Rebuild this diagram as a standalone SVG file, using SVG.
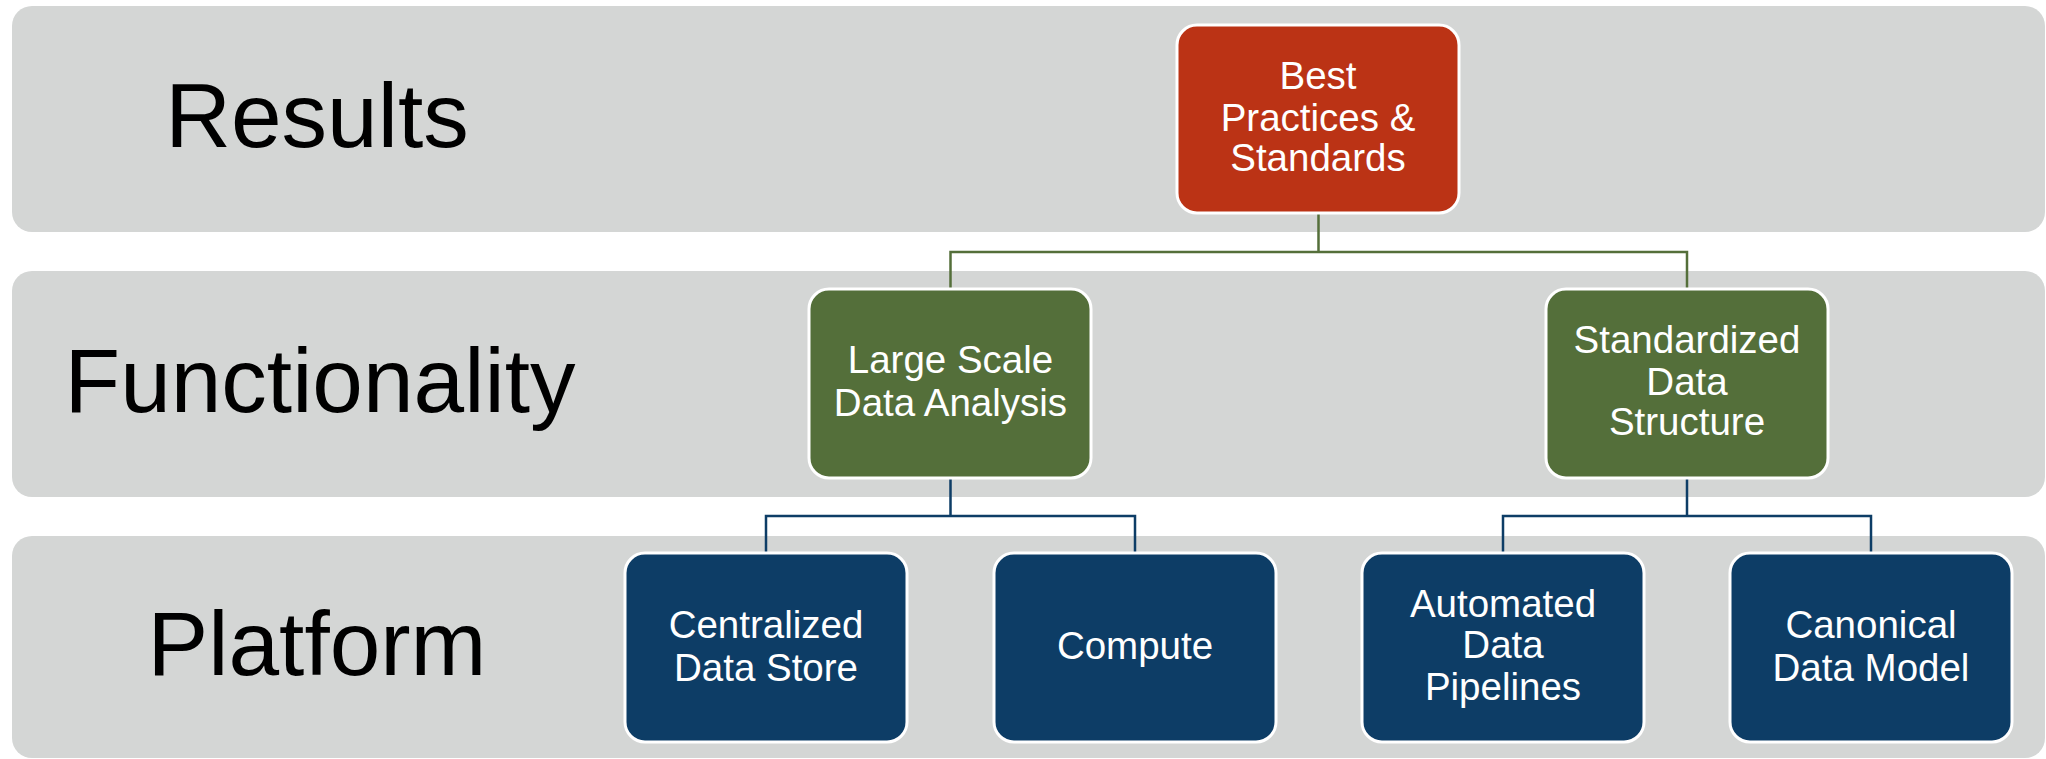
<svg xmlns="http://www.w3.org/2000/svg" width="2046" height="759" viewBox="0 0 2046 759">
  <style>
    .band { fill: #D4D6D5; }
    .tier { font-family: "Liberation Sans", Arial, sans-serif; font-size: 91px; fill: #000000; text-anchor: middle; }
    .box { stroke: #FFFFFF; stroke-width: 3; }
    .red { fill: #BB3315; }
    .green { fill: #546F3A; }
    .blue { fill: #0D3D66; }
    .lbl { font-family: "Liberation Sans", Arial, sans-serif; font-size: 38.5px; fill: #FFFFFF; text-anchor: middle; }
    .wire { fill: none; stroke-width: 2.5; }
    .wire-g { stroke: #546F3A; }
    .wire-b { stroke: #0D3D66; }
  </style>

  <!-- tier bands -->
  <g id="bands">
    <rect class="band" x="12" y="6" width="2033" height="226" rx="20"/>
    <rect class="band" x="12" y="271" width="2033" height="226" rx="20"/>
    <rect class="band" x="12" y="536" width="2033" height="222" rx="20"/>
    <text class="tier" x="317" y="147">Results</text>
    <text class="tier" x="320" y="412">Functionality</text>
    <text class="tier" x="317" y="675">Platform</text>
  </g>

  <!-- connectors -->
  <g id="connectors">
    <path class="wire wire-g" d="M1318.5 213 V252 M950.5 289 V252 H1687 V289"/>
    <path class="wire wire-b" d="M950.5 478 V516 M766 553 V516 H1135 V553"/>
    <path class="wire wire-b" d="M1687 478 V516 M1503 553 V516 H1871 V553"/>
  </g>

  <g id="best-practices">
    <rect class="box red" x="1177" y="25" width="282" height="188" rx="20"/>
    <text class="lbl" x="1318" y="89">Best</text>
    <text class="lbl" x="1318" y="131">Practices &amp;</text>
    <text class="lbl" x="1318" y="171">Standards</text>
  </g>

  <g id="large-scale-analysis">
    <rect class="box green" x="809" y="289" width="282" height="189" rx="20"/>
    <text class="lbl" x="950.5" y="373">Large Scale</text>
    <text class="lbl" x="950.5" y="416">Data Analysis</text>
  </g>

  <g id="standardized-structure">
    <rect class="box green" x="1546" y="289" width="282" height="189" rx="20"/>
    <text class="lbl" x="1687" y="353">Standardized</text>
    <text class="lbl" x="1687" y="395">Data</text>
    <text class="lbl" x="1687" y="435">Structure</text>
  </g>

  <g id="data-store">
    <rect class="box blue" x="625" y="553" width="282" height="189" rx="20"/>
    <text class="lbl" x="766" y="638">Centralized</text>
    <text class="lbl" x="766" y="681">Data Store</text>
  </g>

  <g id="compute">
    <rect class="box blue" x="994" y="553" width="282" height="189" rx="20"/>
    <text class="lbl" x="1135" y="659">Compute</text>
  </g>

  <g id="pipelines">
    <rect class="box blue" x="1362" y="553" width="282" height="189" rx="20"/>
    <text class="lbl" x="1503" y="617">Automated</text>
    <text class="lbl" x="1503" y="658">Data</text>
    <text class="lbl" x="1503" y="700">Pipelines</text>
  </g>

  <g id="data-model">
    <rect class="box blue" x="1730" y="553" width="282" height="189" rx="20"/>
    <text class="lbl" x="1871" y="638">Canonical</text>
    <text class="lbl" x="1871" y="681">Data Model</text>
  </g>
</svg>
